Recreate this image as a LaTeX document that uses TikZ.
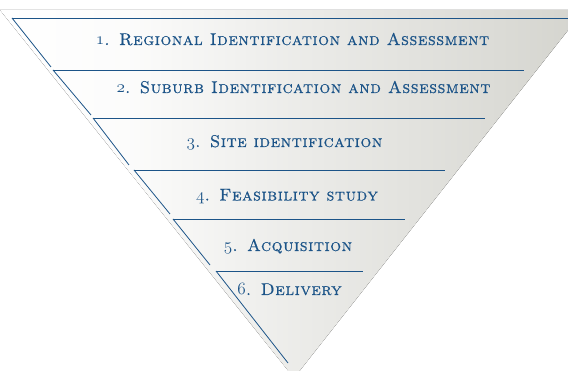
\documentclass[tikz,border=0pt]{standalone}
\usepackage{fontspec}
\setmainfont{lmroman10-regular.otf}[SmallCapsFont=lmromancaps10-regular.otf,SmallCapsFeatures={LetterSpace=3.5,FakeBold=0.6}]
\definecolor{stepblue}{RGB}{28,84,136}
\definecolor{funnelgray}{RGB}{212,212,206}
\pgfdeclarehorizontalshading{funnelshade}{100bp}{color(0bp)=(white); color(25bp)=(white); color(36bp)=(funnelgray!8!white); color(50bp)=(funnelgray!44!white); color(75bp)=(funnelgray); color(100bp)=(funnelgray)}
\newcommand{\stepnum}[1]{{\usefont{OML}{lmm}{b}{it}#1}}
\begin{document}
\begin{tikzpicture}[x=1pt,y=1pt,yscale=-1,
  stepline/.style={draw=stepblue,line width=0.8pt},
  steplabel/.style={anchor=base,inner sep=0pt,text=stepblue,font=\fontsize{17}{20}\selectfont\scshape}]
\useasboundingbox (0,0) rectangle (568,371);

%Shape: Funnel
\fill [shading=funnelshade] (0,10) -- (584,10) -- (294,378) -- cycle ;

%Straight Lines: top and left edges
\draw [stepline] (12,18) -- (568,18) ;
\draw [stepline] (12,18) -- (51,67) ;
\draw [stepline] (53,70) -- (524,70) ;
\draw [stepline] (53,70) -- (91,115) ;
\draw [stepline] (93,118) -- (485,118) ;
\draw [stepline] (93,118) -- (129,165) ;
\draw [stepline] (134,170) -- (445,170) ;
\draw [stepline] (134,170) -- (170,214) ;
\draw [stepline] (173,219) -- (405,219) ;
\draw [stepline] (173,219) -- (210,265) ;
\draw [stepline] (216,271) -- (363,271) ;
\draw [stepline] (216,271) -- (288,363) ;

% Text Node
\node (regional) [steplabel] at (292.5,45) {\stepnum{1}. Regional Identification and Assessment};
% Text Node
\node (suburb) [steplabel] at (303.5,93) {\stepnum{2}. Suburb Identification and Assessment};
% Text Node
\node (site) [steplabel] at (284.5,147) {\stepnum{3}. Site identification};
% Text Node
\node (feasibility) [steplabel] at (287,200.5) {\stepnum{4}. Feasibility study};
% Text Node
\node (acquisition) [steplabel] at (288,251) {\stepnum{5}. Acquisition};
% Text Node
\node (delivery) [steplabel] at (289.5,295) {\stepnum{6}. Delivery};

\end{tikzpicture}
\end{document}
